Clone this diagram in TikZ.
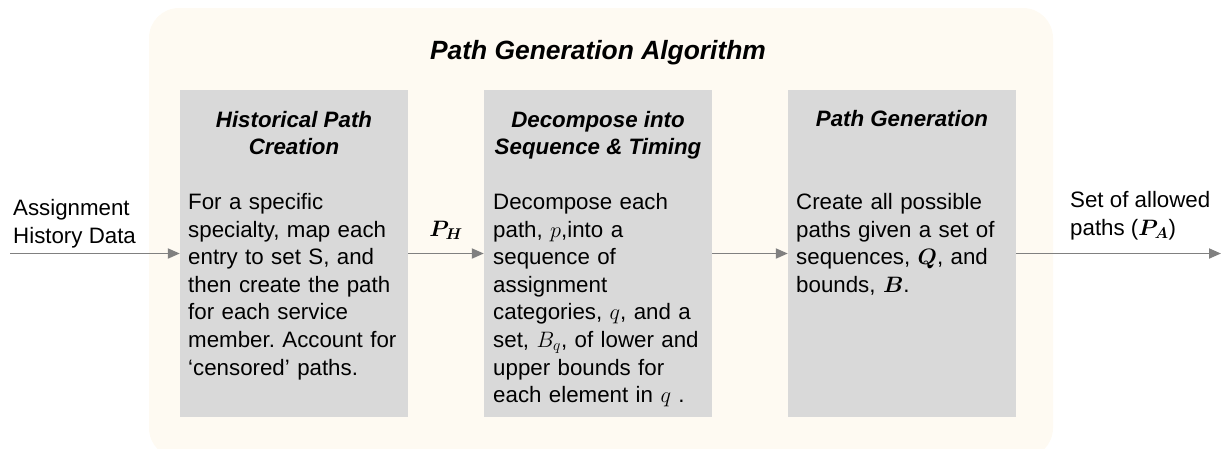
\documentclass[tikz,border=0pt]{standalone}
\usepackage{fix-cm}
\usepackage{amsmath}
\usepackage{fontspec}
\setmainfont{Liberation Sans}
\usetikzlibrary{arrows.meta}
\definecolor{cream}{HTML}{FEFAF2}
\definecolor{panel}{HTML}{D9D9D9}
\definecolor{flow}{HTML}{808080}

\begin{document}
\begin{tikzpicture}[x=1pt,y=-1pt,>={Triangle[length=12pt,width=10pt]},
  stage/.style={fill=panel,minimum width=228pt,minimum height=327pt,inner sep=0pt},
  head/.style={anchor=base,align=center,font=\fontsize{22.3}{27}\selectfont\bfseries\itshape},
  body/.style={anchor=base west,align=left,text width=222pt,inner sep=0pt,font=\fontsize{22.3}{27.6}\selectfont},
  side/.style={anchor=base west,align=left,inner sep=0pt,font=\fontsize{22.3}{28}\selectfont},
  link/.style={->,line width=1.9pt,color=flow}]
  \useasboundingbox (0,0) rectangle (1222,448);
  \fill[cream,rounded corners=30pt] (149,8) rectangle (1053,458);
  \node[anchor=base,font=\fontsize{26.4}{31}\selectfont\bfseries\itshape] (title) at (598,59) {Path Generation Algorithm};
  % the three stages
  \node[stage] (hist) at (294,253.5) {};
  \node[stage] (dec) at (598,253.5) {};
  \node[stage] (gen) at (902,253.5) {};
  \node[head] (histhead) at (294,154) {Historical Path\\Creation};
  \node[head] (dechead) at (598,154) {Decompose into\\Sequence \& Timing};
  \node[head] (genhead) at (902,126) {Path Generation};
  \node[body] (histtext) at (188,209.5) {For a specific\\specialty, map each\\entry to set S, and\\then create the path\\for each service\\member.\ Account for\\‘censored’ paths.};
  \node[body] (dectext) at (493,209.5) {Decompose each\\path, $p$,into a\\sequence of\\assignment\\categories, $q$, and a\\set, $B_q$, of lower and\\upper bounds for\\each element in $q$ .};
  \node[body] (gentext) at (796,209.5) {Create all possible\\paths given a set of\\sequences, $\boldsymbol{Q}$, and\\bounds, $\boldsymbol{B}$.};
  % input and output
  \node[side] (input) at (13,243) {Assignment\\History Data};
  \node[side] (output) at (1070,235) {Set of allowed\\paths ($\boldsymbol{P_A}$)};
  \coordinate (src) at (10,253.5);
  \coordinate (dst) at (1221,253.5);
  \draw[link] (src) -- (hist.west);
  \draw[link] (hist) -- node[above=13pt,inner sep=0pt,text=black,font=\fontsize{22.3}{27}\selectfont] (ph) {$\boldsymbol{P_H}$} (dec);
  \draw[link] (dec) -- (gen);
  \draw[link] (gen.east) -- (dst);
\end{tikzpicture}
\end{document}
